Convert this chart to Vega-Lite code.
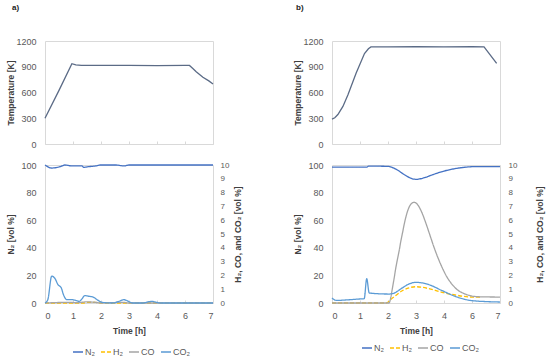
{
  "$schema": "https://vega.github.io/schema/vega-lite/v6.json",
  "padding": {"left": 5, "right": 5, "top": 3, "bottom": 2},
  "config": {
    "font": "Liberation Sans",
    "view": {"stroke": "#d9d9d9", "strokeWidth": 1},
    "axis": {"labelColor": "#595959", "titleColor": "#404040", "labelFontSize": 9, "titleFontSize": 8.5, "titleFontWeight": "bold", "grid": false, "domain": false},
    "title": {"fontSize": 8, "fontWeight": "bold", "color": "#222222"}
  },
  "datasets": {
    "tempA": [
      {"t": 0, "T": 300}, {"t": 0.5, "T": 625}, {"t": 0.96, "T": 935}, {"t": 1.1, "T": 922}, {"t": 1.3, "T": 915},
      {"t": 2, "T": 915}, {"t": 3, "T": 916}, {"t": 4, "T": 914}, {"t": 5, "T": 915}, {"t": 5.16, "T": 915},
      {"t": 5.28, "T": 880}, {"t": 5.4, "T": 843}, {"t": 5.64, "T": 777}, {"t": 5.85, "T": 735}, {"t": 6, "T": 700}
    ],
    "tempB": [
      {"t": 0, "T": 290}, {"t": 0.1, "T": 305}, {"t": 0.21, "T": 343}, {"t": 0.39, "T": 438}, {"t": 0.57, "T": 573},
      {"t": 0.86, "T": 824}, {"t": 1.16, "T": 1054}, {"t": 1.3, "T": 1110}, {"t": 1.39, "T": 1131}, {"t": 2, "T": 1132},
      {"t": 3, "T": 1133}, {"t": 4, "T": 1132}, {"t": 5, "T": 1133}, {"t": 5.43, "T": 1132}, {"t": 5.88, "T": 940}
    ],
    "gasA": [
      {"t": 0, "series": "N₂", "v": 100}, {"t": 0.24, "series": "N₂", "v": 97.8}, {"t": 0.54, "series": "N₂", "v": 98.8},
      {"t": 0.72, "series": "N₂", "v": 100}, {"t": 0.96, "series": "N₂", "v": 99.3}, {"t": 1.32, "series": "N₂", "v": 99.3},
      {"t": 1.38, "series": "N₂", "v": 98.3}, {"t": 1.56, "series": "N₂", "v": 98.8}, {"t": 1.8, "series": "N₂", "v": 99.3},
      {"t": 1.98, "series": "N₂", "v": 100}, {"t": 2.52, "series": "N₂", "v": 100}, {"t": 2.82, "series": "N₂", "v": 99.3},
      {"t": 3.0, "series": "N₂", "v": 100}, {"t": 6, "series": "N₂", "v": 100},
      {"t": 0, "series": "H₂", "v": 0}, {"t": 1.35, "series": "H₂", "v": 0}, {"t": 1.55, "series": "H₂", "v": 0.05},
      {"t": 1.8, "series": "H₂", "v": 0.04}, {"t": 2.0, "series": "H₂", "v": 0}, {"t": 6, "series": "H₂", "v": 0},
      {"t": 0, "series": "CO", "v": 0}, {"t": 0.9, "series": "CO", "v": 0.05}, {"t": 1.1, "series": "CO", "v": 0.02},
      {"t": 1.5, "series": "CO", "v": 0.08}, {"t": 1.8, "series": "CO", "v": 0.05}, {"t": 2.0, "series": "CO", "v": 0},
      {"t": 2.8, "series": "CO", "v": 0.05}, {"t": 3.0, "series": "CO", "v": 0}, {"t": 6, "series": "CO", "v": 0},
      {"t": 0, "series": "CO₂", "v": 0}, {"t": 0.1, "series": "CO₂", "v": 0.24}, {"t": 0.24, "series": "CO₂", "v": 1.95},
      {"t": 0.36, "series": "CO₂", "v": 1.76}, {"t": 0.46, "series": "CO₂", "v": 1.34}, {"t": 0.58, "series": "CO₂", "v": 1.1},
      {"t": 0.66, "series": "CO₂", "v": 0.6}, {"t": 0.78, "series": "CO₂", "v": 0.24}, {"t": 0.96, "series": "CO₂", "v": 0.24},
      {"t": 1.08, "series": "CO₂", "v": 0.2}, {"t": 1.22, "series": "CO₂", "v": 0.12}, {"t": 1.32, "series": "CO₂", "v": 0.3},
      {"t": 1.42, "series": "CO₂", "v": 0.54}, {"t": 1.56, "series": "CO₂", "v": 0.49}, {"t": 1.74, "series": "CO₂", "v": 0.41},
      {"t": 1.86, "series": "CO₂", "v": 0.24}, {"t": 2.04, "series": "CO₂", "v": 0.05}, {"t": 2.4, "series": "CO₂", "v": 0},
      {"t": 2.64, "series": "CO₂", "v": 0.12}, {"t": 2.82, "series": "CO₂", "v": 0.24}, {"t": 2.98, "series": "CO₂", "v": 0.12},
      {"t": 3.12, "series": "CO₂", "v": 0}, {"t": 3.48, "series": "CO₂", "v": 0}, {"t": 3.72, "series": "CO₂", "v": 0.1},
      {"t": 3.84, "series": "CO₂", "v": 0.12}, {"t": 3.98, "series": "CO₂", "v": 0.05}, {"t": 4.14, "series": "CO₂", "v": 0},
      {"t": 6, "series": "CO₂", "v": 0}
    ],
    "gasB": [
      {"t": 0, "series": "N₂", "v": 98.5}, {"t": 1.25, "series": "N₂", "v": 98.5}, {"t": 1.3, "series": "N₂", "v": 99.2},
      {"t": 2.0, "series": "N₂", "v": 99}, {"t": 2.3, "series": "N₂", "v": 96.8}, {"t": 2.6, "series": "N₂", "v": 92.8},
      {"t": 2.85, "series": "N₂", "v": 90.2}, {"t": 3.0, "series": "N₂", "v": 89.6}, {"t": 3.3, "series": "N₂", "v": 90.8},
      {"t": 3.6, "series": "N₂", "v": 93}, {"t": 4.0, "series": "N₂", "v": 95.6}, {"t": 4.6, "series": "N₂", "v": 98},
      {"t": 5.1, "series": "N₂", "v": 98.8}, {"t": 6, "series": "N₂", "v": 98.8},
      {"t": 0, "series": "H₂", "v": 0}, {"t": 1.92, "series": "H₂", "v": 0}, {"t": 2.16, "series": "H₂", "v": 0.36},
      {"t": 2.51, "series": "H₂", "v": 0.89}, {"t": 2.75, "series": "H₂", "v": 1.1}, {"t": 2.99, "series": "H₂", "v": 1.18},
      {"t": 3.46, "series": "H₂", "v": 1.04}, {"t": 3.93, "series": "H₂", "v": 0.77}, {"t": 4.4, "series": "H₂", "v": 0.58},
      {"t": 5.0, "series": "H₂", "v": 0.43}, {"t": 5.3, "series": "H₂", "v": 0.43},
      {"t": 0, "series": "CO", "v": 0}, {"t": 2.04, "series": "CO", "v": 0}, {"t": 2.1, "series": "CO", "v": 0.4},
      {"t": 2.16, "series": "CO", "v": 1.1}, {"t": 2.22, "series": "CO", "v": 1.8}, {"t": 2.28, "series": "CO", "v": 2.56},
      {"t": 2.34, "series": "CO", "v": 3.2}, {"t": 2.4, "series": "CO", "v": 3.8}, {"t": 2.46, "series": "CO", "v": 4.5},
      {"t": 2.52, "series": "CO", "v": 5.1}, {"t": 2.6, "series": "CO", "v": 5.9}, {"t": 2.69, "series": "CO", "v": 6.6},
      {"t": 2.78, "series": "CO", "v": 7.05}, {"t": 2.86, "series": "CO", "v": 7.25}, {"t": 2.93, "series": "CO", "v": 7.3},
      {"t": 3.0, "series": "CO", "v": 7.25}, {"t": 3.1, "series": "CO", "v": 7.0}, {"t": 3.2, "series": "CO", "v": 6.6},
      {"t": 3.35, "series": "CO", "v": 5.8}, {"t": 3.5, "series": "CO", "v": 4.9}, {"t": 3.65, "series": "CO", "v": 4.0},
      {"t": 3.8, "series": "CO", "v": 3.2}, {"t": 3.95, "series": "CO", "v": 2.5}, {"t": 4.1, "series": "CO", "v": 1.9},
      {"t": 4.25, "series": "CO", "v": 1.45}, {"t": 4.4, "series": "CO", "v": 1.1}, {"t": 4.55, "series": "CO", "v": 0.85},
      {"t": 4.7, "series": "CO", "v": 0.7}, {"t": 4.85, "series": "CO", "v": 0.58}, {"t": 5.0, "series": "CO", "v": 0.5},
      {"t": 5.3, "series": "CO", "v": 0.45}, {"t": 6, "series": "CO", "v": 0.43},
      {"t": 0, "series": "CO₂", "v": 0.36}, {"t": 0.15, "series": "CO₂", "v": 0.19}, {"t": 0.5, "series": "CO₂", "v": 0.22},
      {"t": 0.98, "series": "CO₂", "v": 0.29}, {"t": 1.15, "series": "CO₂", "v": 0.31}, {"t": 1.24, "series": "CO₂", "v": 1.76},
      {"t": 1.33, "series": "CO₂", "v": 0.72}, {"t": 2.04, "series": "CO₂", "v": 0.65}, {"t": 2.2, "series": "CO₂", "v": 0.7},
      {"t": 2.5, "series": "CO₂", "v": 1.08}, {"t": 2.75, "series": "CO₂", "v": 1.38}, {"t": 2.99, "series": "CO₂", "v": 1.5},
      {"t": 3.46, "series": "CO₂", "v": 1.33}, {"t": 3.93, "series": "CO₂", "v": 0.9}, {"t": 4.4, "series": "CO₂", "v": 0.48},
      {"t": 5.0, "series": "CO₂", "v": 0.17}, {"t": 6, "series": "CO₂", "v": 0.07}
    ]
  },
  "concat": [
    {
      "title": {"text": "a)", "anchor": "start", "frame": "group", "dx": -33, "offset": 25},
      "width": 168, "height": 103,
      "data": {"name": "tempA"},
      "mark": {"type": "line", "color": "#5b6b86", "strokeWidth": 1.3},
      "encoding": {
        "x": {"field": "t", "type": "quantitative", "scale": {"domain": [0, 6], "nice": false},
          "axis": {"values": [0, 1, 2, 3, 4, 5, 6], "labels": false, "tickSize": -3, "tickColor": "#d9d9d9", "title": null}},
        "y": {"field": "T", "type": "quantitative", "scale": {"domain": [0, 1200]},
          "axis": {"values": [0, 300, 600, 900, 1200], "format": "d", "title": "Temperature [K]", "ticks": false, "labelPadding": 9, "titleX": -30, "titleBaseline": "bottom"}}
      }
    },
    {
      "title": {"text": "b)", "anchor": "start", "frame": "group", "dx": -36, "offset": 25},
      "width": 168, "height": 103,
      "data": {"name": "tempB"},
      "mark": {"type": "line", "color": "#5b6b86", "strokeWidth": 1.3},
      "encoding": {
        "x": {"field": "t", "type": "quantitative", "scale": {"domain": [0, 6], "nice": false},
          "axis": {"values": [0, 1, 2, 3, 4, 5, 6], "labels": false, "tickSize": -3, "tickColor": "#d9d9d9", "title": null}},
        "y": {"field": "T", "type": "quantitative", "scale": {"domain": [0, 1200]},
          "axis": {"values": [0, 300, 600, 900, 1200], "format": "d", "title": "Temperature [K]", "ticks": false, "labelPadding": 9, "titleX": -30, "titleBaseline": "bottom"}}
      }
    },
    {
      "width": 168, "height": 138,
      "data": {"name": "gasA"},
      "encoding": {
        "x": {"field": "t", "type": "quantitative", "scale": {"domain": [0, 6], "nice": false},
          "axis": {"values": [0, 1, 2, 3, 4, 5, 6], "labelExpr": "datum.value == 5 ? '6' : datum.value == 6 ? '7' : datum.label", "tickSize": -3, "tickColor": "#d9d9d9", "labelPadding": 11, "title": "Time [h]", "titlePadding": 6}},
        "color": {"field": "series", "type": "nominal", "scale": {"domain": ["N₂", "H₂", "CO", "CO₂"], "range": ["#4472C4", "#FFC000", "#A5A5A5", "#5B9BD5"]},
          "legend": {"title": null, "orient": "none", "legendX": 27, "legendY": 181, "direction": "horizontal", "symbolType": "stroke", "symbolSize": 100, "symbolStrokeWidth": 1.5, "labelFontSize": 9, "labelColor": "#595959", "labelOffset": 1, "columnPadding": 3}},
        "strokeDash": {"field": "series", "type": "nominal", "scale": {"domain": ["N₂", "H₂", "CO", "CO₂"], "range": [[1, 0], [4, 2], [1, 0], [1, 0]]},
          "legend": {"title": null, "orient": "none", "legendX": 27, "legendY": 181, "direction": "horizontal", "symbolType": "stroke", "symbolSize": 100, "symbolStrokeWidth": 1.5, "labelFontSize": 9, "labelColor": "#595959", "labelOffset": 1, "columnPadding": 3}}
      },
      "layer": [
        {
          "transform": [{"filter": "datum.series == 'N₂'"}],
          "mark": {"type": "line", "strokeWidth": 1.3, "interpolate": "monotone"},
          "encoding": {"y": {"field": "v", "type": "quantitative", "scale": {"domain": [0, 100]},
            "axis": {"values": [0, 20, 40, 60, 80, 100], "title": "N₂ [vol %]", "ticks": false, "labelPadding": 9, "titleX": -30, "titleBaseline": "bottom"}}}
        },
        {
          "transform": [{"filter": "datum.series != 'N₂'"}],
          "mark": {"type": "line", "strokeWidth": 1.3, "interpolate": "monotone"},
          "encoding": {"y": {"field": "v", "type": "quantitative", "scale": {"domain": [0, 10]},
            "axis": {"orient": "right", "values": [0, 1, 2, 3, 4, 5, 6, 7, 8, 9, 10], "title": "H₂, CO, and CO₂ [vol %]", "ticks": false, "labelPadding": 7, "labelFontSize": 8, "titleAngle": -90, "titleX": 20, "titleBaseline": "top"}}}
        }
      ],
      "resolve": {"scale": {"y": "independent"}}
    },
    {
      "width": 168, "height": 138,
      "data": {"name": "gasB"},
      "encoding": {
        "x": {"field": "t", "type": "quantitative", "scale": {"domain": [0, 6], "nice": false},
          "axis": {"values": [0, 1, 2, 3, 4, 5, 6], "labelExpr": "datum.value == 5 ? '6' : datum.value == 6 ? '7' : datum.label", "tickSize": -3, "tickColor": "#d9d9d9", "labelPadding": 11, "title": "Time [h]", "titlePadding": 6}},
        "color": {"field": "series", "type": "nominal", "scale": {"domain": ["N₂", "H₂", "CO", "CO₂"], "range": ["#4472C4", "#FFC000", "#A5A5A5", "#5B9BD5"]},
          "legend": {"title": null, "orient": "none", "legendX": 29, "legendY": 177, "direction": "horizontal", "symbolType": "stroke", "symbolSize": 100, "symbolStrokeWidth": 1.5, "labelFontSize": 9, "labelColor": "#595959", "labelOffset": 1, "columnPadding": 3}},
        "strokeDash": {"field": "series", "type": "nominal", "scale": {"domain": ["N₂", "H₂", "CO", "CO₂"], "range": [[1, 0], [4, 2], [1, 0], [1, 0]]},
          "legend": {"title": null, "orient": "none", "legendX": 29, "legendY": 177, "direction": "horizontal", "symbolType": "stroke", "symbolSize": 100, "symbolStrokeWidth": 1.5, "labelFontSize": 9, "labelColor": "#595959", "labelOffset": 1, "columnPadding": 3}}
      },
      "layer": [
        {
          "transform": [{"filter": "datum.series == 'N₂'"}],
          "mark": {"type": "line", "strokeWidth": 1.3, "interpolate": "monotone"},
          "encoding": {"y": {"field": "v", "type": "quantitative", "scale": {"domain": [0, 100]},
            "axis": {"values": [0, 20, 40, 60, 80, 100], "title": "N₂ [vol %]", "ticks": false, "labelPadding": 9, "titleX": -30, "titleBaseline": "bottom"}}}
        },
        {
          "transform": [{"filter": "datum.series != 'N₂'"}],
          "mark": {"type": "line", "strokeWidth": 1.3, "interpolate": "monotone"},
          "encoding": {"y": {"field": "v", "type": "quantitative", "scale": {"domain": [0, 10]},
            "axis": {"orient": "right", "values": [0, 1, 2, 3, 4, 5, 6, 7, 8, 9, 10], "title": "H₂, CO, and CO₂ [vol %]", "ticks": false, "labelPadding": 8, "labelFontSize": 8, "titleAngle": -90, "titleX": 35, "titleBaseline": "top"}}}
        }
      ],
      "resolve": {"scale": {"y": "independent"}}
    }
  ],
  "columns": 2,
  "spacing": {"row": 21, "column": 119},
  "bounds": "flush",
  "resolve": {"scale": {"color": "independent", "strokeDash": "independent"}, "legend": {"color": "independent", "strokeDash": "independent"}}
}
